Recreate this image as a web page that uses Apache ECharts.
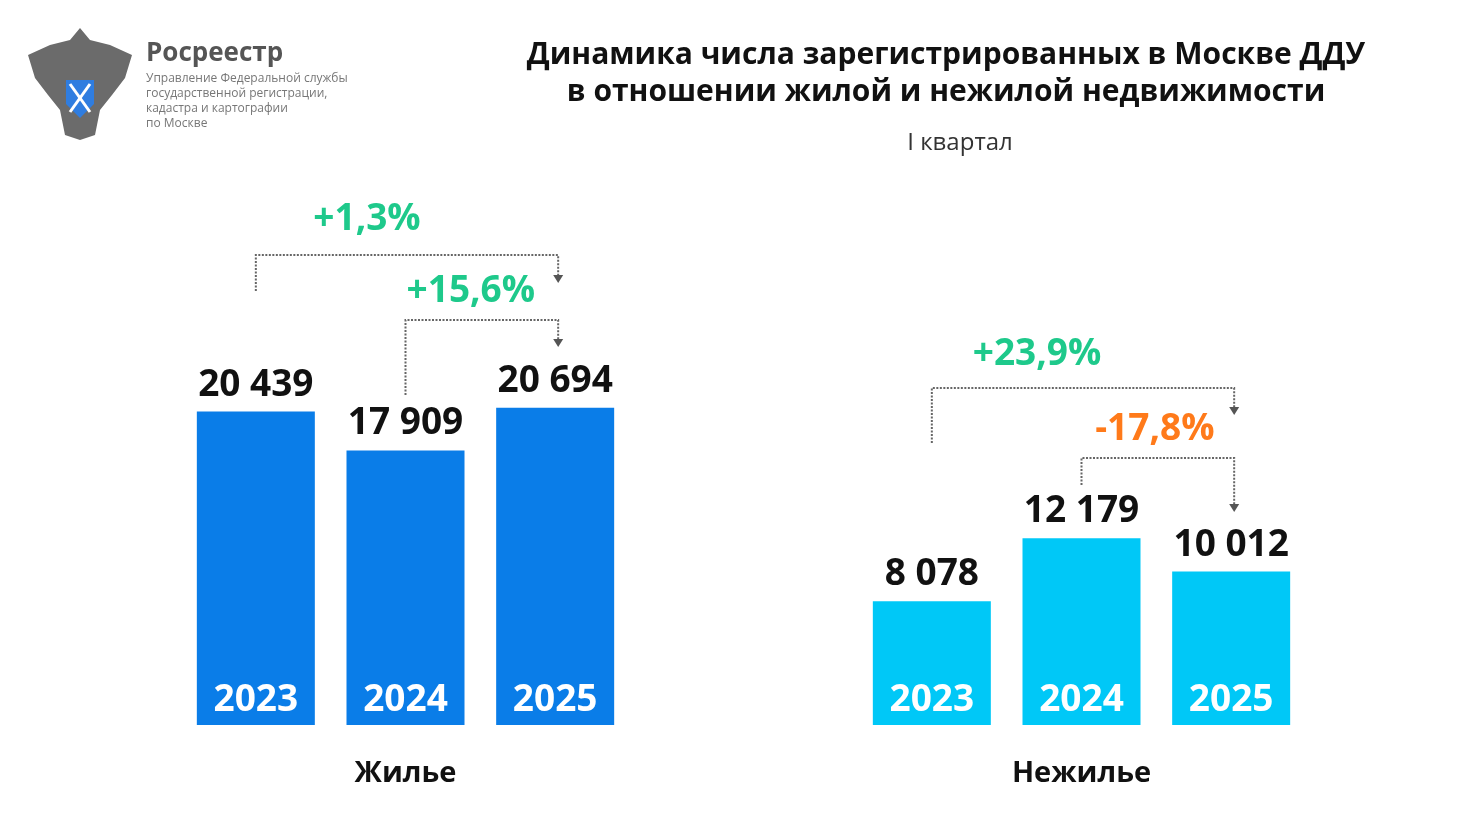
<!DOCTYPE html>
<html><head><meta charset="utf-8">
<script src="https://cdn.jsdelivr.net/npm/echarts@6/dist/echarts.min.js"></script>
<style>html,body{margin:0;padding:0;background:#fff}#c{width:1476px;height:814px}</style>
</head><body><div id="c"></div>
<script>
const years = ['2023','2024','2025'];
const residential = [20439, 17909, 20694];
const nonResidential = [8078, 12179, 10012];
const groupNames = ['Жилье', 'Нежилье'];
const changesRes = ['+1,3%', '+15,6%'];
const changesNon = ['+23,9%', '-17,8%'];

const FONT = '"Open Sans", "Noto Sans", sans-serif';
const fmt = v => String(v).replace(/\B(?=(\d{3})+(?!\d))/g, ' ');
const chart = echarts.init(document.getElementById('c'));

function series(idx, data, color) {
  return {
    type: 'bar', xAxisIndex: idx, yAxisIndex: idx, data, barWidth: 118,
    itemStyle: { color },
    label: { show: true, position: 'top', distance: 8, formatter: p => fmt(p.value),
      fontFamily: FONT, fontWeight: 'bold', fontSize: 37, color: '#111' }
  };
}
const yearLabel = (idx, data) => ({
  type: 'bar', xAxisIndex: idx, yAxisIndex: idx, data: data.map(() => 0), barWidth: 118,
  barGap: '-100%', silent: true,
  label: { show: true, position: 'top', distance: 6, formatter: p => years[p.dataIndex],
    fontFamily: FONT, fontWeight: 'bold', fontSize: 37, color: '#fff' }
});

chart.setOption({
  animation: false,
  title: [
    { text: 'Динамика числа зарегистрированных в Москве ДДУ\nв отношении жилой и нежилой недвижимости',
      left: 941, top: 32, textAlign: 'center',
      textStyle: { fontFamily: FONT, fontWeight: 'bold', fontSize: 30, lineHeight: 37, color: '#111' } },
    { text: 'I квартал', left: 955, top: 126, textAlign: 'center',
      textStyle: { fontFamily: FONT, fontWeight: 'normal', fontSize: 24, color: '#333' } }
  ],
  grid: [
    { left: 181, width: 449, top: 265, height: 460 },
    { left: 857, width: 449, top: 265, height: 460 }
  ],
  xAxis: [0, 1].map(i => ({ gridIndex: i, type: 'category', data: years,
    axisLine: { show: false }, axisTick: { show: false }, axisLabel: { show: false },
    name: groupNames[i], nameLocation: 'middle', nameGap: 34,
    nameTextStyle: { fontFamily: FONT, fontWeight: 'bold', fontSize: 29, color: '#111' } })),
  yAxis: [0, 1].map(i => ({ gridIndex: i, type: 'value', min: 0, max: 30000, show: false, splitLine: { show: false } })),
  series: [
    series(0, residential, '#0a7de8'),
    yearLabel(0, residential),
    series(1, nonResidential, '#00c8f7'),
    yearLabel(1, nonResidential)
  ]
});

function bracket(gi, from, to, yTop, yStart, yEnd, text, color, t) {
  const x1 = chart.convertToPixel({ gridIndex: gi }, [from, 0])[0];
  const x2 = chart.convertToPixel({ gridIndex: gi }, [to, 0])[0] + 3;
  return [
    { type: 'polyline', shape: { points: [[x1, yStart], [x1, yTop], [x2, yTop], [x2, yEnd - 6]] },
      style: { fill: null, stroke: '#666', lineWidth: 2, lineDash: [2, 1.5] } },
    { type: 'polygon', shape: { points: [[x2 - 5, yEnd - 8], [x2 + 5, yEnd - 8], [x2, yEnd]] }, style: { fill: '#555' } },
    { type: 'text', x: (x1 + x2) / 2 + t.dx, y: t.y, style: { text, fill: color, font: 'bold 37px ' + FONT, textAlign: 'center', textVerticalAlign: 'middle' } }
  ];
}
const G = '#1ec98b', O = '#ff7a1a';
const els = [].concat(
  bracket(0, 0, 2, 255, 291, 283, changesRes[0], G, { y: 219, dx: -40 }),
  bracket(0, 1, 2, 320, 395, 347, changesRes[1], G, { y: 291, dx: -11 }),
  bracket(1, 0, 2, 388, 443, 415, changesNon[0], G, { y: 354, dx: -46 }),
  bracket(1, 1, 2, 458, 485, 512, changesNon[1], O, { y: 429, dx: -3 }),
  [
    { type: 'text', x: 146, y: 54, style: { text: 'Росреестр', fill: '#555', font: 'bold 26px ' + FONT, textVerticalAlign: 'middle' } },
    { type: 'text', x: 146, y: 71, style: { text: 'Управление Федеральной службы\nгосударственной регистрации,\nкадастра и картографии\nпо Москве', fill: '#777', font: '12px ' + FONT, lineHeight: 15 } },
    { type: 'polygon', shape: { points: [[80,28],[90,40],[110,45],[132,55],[125,78],[112,95],[100,110],[95,135],[80,140],[65,135],[60,110],[48,95],[35,78],[28,55],[50,45],[70,40]] }, style: { fill: '#6b6b6b' } },
    { type: 'polygon', shape: { points: [[66,80],[94,80],[94,104],[80,118],[66,104]] }, style: { fill: '#2f7de0' } },
    { type: 'line', shape: { x1: 70, y1: 84, x2: 90, y2: 112 }, style: { stroke: '#fff', lineWidth: 3 } },
    { type: 'line', shape: { x1: 90, y1: 84, x2: 70, y2: 112 }, style: { stroke: '#fff', lineWidth: 3 } }
  ]
);
chart.setOption({ graphic: els });
</script></body></html>
